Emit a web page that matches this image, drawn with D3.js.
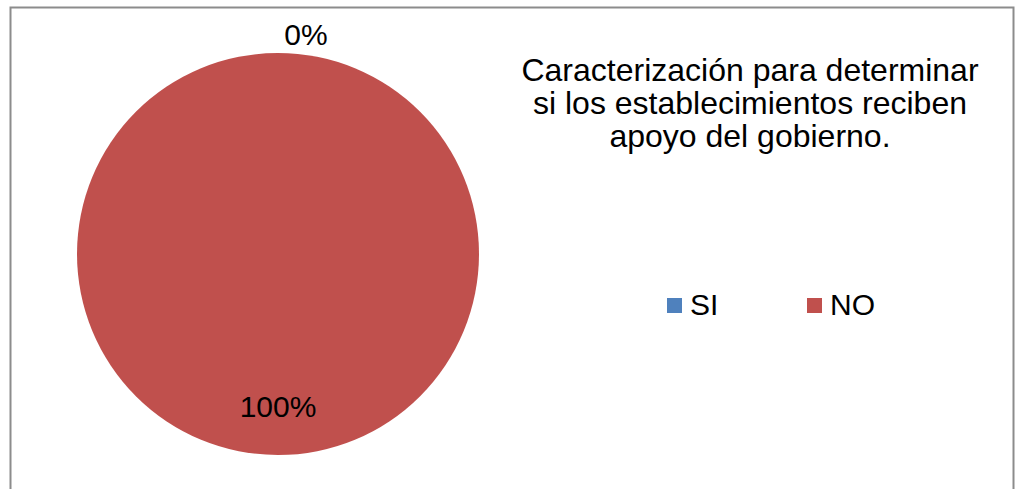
<!DOCTYPE html>
<html>
<head>
<meta charset="utf-8">
<script src="https://cdn.jsdelivr.net/npm/d3@7/dist/d3.min.js"></script>
<style>
  html, body { margin: 0; padding: 0; background: #fff; }
  svg { display: block; font-family: "Liberation Sans", Arial, sans-serif; }
</style>
</head>
<body>
<div id="chart"></div>
<script>
// Survey answers and their shares
const categories = ["SI", "NO"];
const values = [0, 100];
const colors = ["#4F81BD", "#C0504D"];
const titleLines = ["Caracterización para determinar", "si los establecimientos reciben", "apoyo del gobierno."];

const W = 1019, H = 489;
const svg = d3.select("#chart").append("svg").attr("width", W).attr("height", H);

// Chart frame
svg.append("rect")
  .attr("x", 10.5).attr("y", 7.5)
  .attr("width", 1003).attr("height", 500)
  .attr("fill", "#fff").attr("stroke", "#8c8c8c").attr("stroke-width", 2);

const cx = 278, cy = 254, r = 201;
const data = categories.map((c, i) => ({ cat: c, value: values[i], color: colors[i] }));

const pie = d3.pie().sort(null).value(d => d.value);
const arcs = pie(data);
const arc = d3.arc().innerRadius(0).outerRadius(r);

const g = svg.append("g").attr("transform", `translate(${cx},${cy})`);
g.selectAll("path.slice")
  .data(arcs.filter(a => a.data.value > 0))
  .join("path")
  .attr("class", "slice")
  .attr("d", arc)
  .attr("fill", d => d.data.color);

// Percentage labels: inside for real slices, outside the rim for empty ones
const total = d3.sum(values);
const inArc = d3.arc().innerRadius(r * 0.76).outerRadius(r * 0.76);
const outArc = d3.arc().innerRadius(r + 19).outerRadius(r + 19);
g.selectAll("text.pct")
  .data(arcs)
  .join("text")
  .attr("class", "pct")
  .attr("transform", d => {
    const p = d.data.value > 0 ? inArc.centroid(d) : outArc.centroid(d);
    const dx = d.data.value > 0 ? 0 : 28;
    return `translate(${p[0] + dx},${p[1]})`;
  })
  .attr("text-anchor", "middle")
  .attr("dominant-baseline", "central")
  .attr("font-size", 30)
  .attr("fill", "#000")
  .text(d => Math.round(d.data.value / total * 100) + "%");

// Title
svg.append("text")
  .attr("x", 750).attr("y", 81)
  .attr("text-anchor", "middle")
  .attr("font-size", 32)
  .attr("fill", "#000")
  .selectAll("tspan")
  .data(titleLines)
  .join("tspan")
  .attr("x", 750)
  .attr("dy", (d, i) => i === 0 ? 0 : 33)
  .text(d => d);

// Legend
const legend = svg.append("g").attr("transform", "translate(667,298)");
const item = legend.selectAll("g")
  .data(data)
  .join("g")
  .attr("transform", (d, i) => `translate(${i * 140},0)`);
item.append("rect")
  .attr("width", 15).attr("height", 15)
  .attr("fill", d => d.color);
item.append("text")
  .attr("x", 23).attr("y", 17)
  .attr("font-size", 30)
  .attr("fill", "#000")
  .text(d => d.cat);
</script>
</body>
</html>
